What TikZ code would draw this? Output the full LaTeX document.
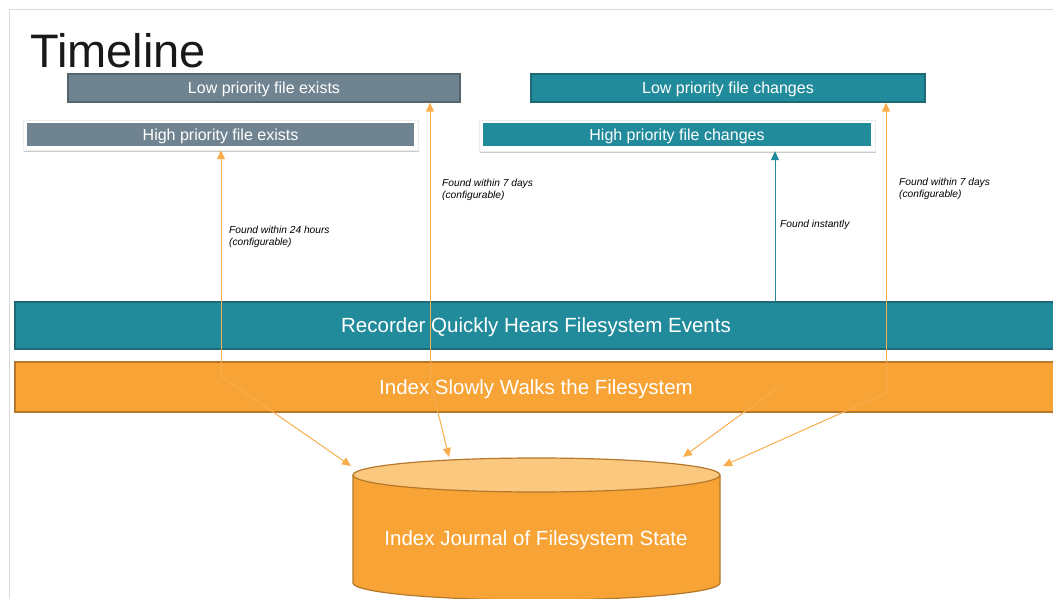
\documentclass[tikz,border=0pt]{standalone}
\usepackage{fontspec}
\setmainfont{Liberation Sans}
\usetikzlibrary{arrows.meta,shadows}
\definecolor{orng}{HTML}{F7A336}
\definecolor{orngln}{HTML}{F9AE4E}
\definecolor{orngdk}{HTML}{B5772A}
\definecolor{orngtop}{HTML}{FBC880}
\definecolor{teal}{HTML}{218B9C}
\definecolor{tealdk}{HTML}{1D6A76}
\definecolor{slate}{HTML}{6F8490}
\definecolor{slatedk}{HTML}{55656E}
\tikzset{
  x=1pt,y=1pt,
  bar/.style={draw, line width=1.2pt, minimum height=#1, inner sep=0pt, text=white, text height=14.6pt, text depth=0pt, font=\fontsize{20.5}{24}\selectfont},
  lowbox/.style={draw, line width=1.2pt, minimum height=28pt, inner sep=0pt, text=white, text height=11.5pt, text depth=0pt, font=\fontsize{16}{18}\selectfont},
  shell/.style={fill=white, draw=gray!15, line width=0.4pt, inner sep=0pt, drop shadow={shadow xshift=0.6pt, shadow yshift=-1.8pt, opacity=0.4}},
  highbox/.style={minimum height=23pt, inner sep=0pt, text=white, text height=11.5pt, text depth=0pt, font=\fontsize{16}{18}\selectfont},
  oarrow/.style={draw=orngln, line width=1pt, -{Triangle[length=9pt,width=8pt]}},
  tarrow/.style={draw=teal, line width=1pt, -{Triangle[length=9pt,width=8pt]}},
  lbl/.style={anchor=north west, inner sep=0pt, align=left, font=\fontsize{10.2}{12}\selectfont\itshape},
}
\begin{document}
\begin{tikzpicture}
\useasboundingbox (0,0) rectangle (1053,-599);
% frame
\draw[gray!30, line width=0.8pt] (9.5,-599) -- (9.5,-9.5) -- (1053,-9.5);
% title
\node[anchor=base west, inner sep=0pt, font=\fontsize{47}{50}\selectfont, text=black!90] (title) at (30,-68) {Timeline};
% top boxes
\node[lowbox, fill=slate, draw=slatedk, minimum width=392pt] (lowex) at (264,-88) {Low priority file exists};
\node[lowbox, fill=teal, draw=tealdk, minimum width=394pt] (lowch) at (728,-88) {Low priority file changes};
\node[shell, minimum width=395pt, minimum height=30pt] (highexs) at (220.5,-135) {};
\node[highbox, fill=slate, minimum width=387pt] (highex) at (220.5,-134.5) {High priority file exists};
\node[shell, minimum width=396pt, minimum height=31pt] (highchs) at (677,-135.5) {};
\node[highbox, fill=teal, minimum width=388pt] (highch) at (677,-134.5) {High priority file changes};
% bars
\node[bar=47pt, fill=teal, draw=tealdk, minimum width=1042pt] (rec) at (536,-325.5) {Recorder Quickly Hears Filesystem Events};
\node[bar=50pt, fill=orng, draw=orngdk, minimum width=1042pt] (idx) at (536,-387) {Index Slowly Walks the Filesystem};
% cylinder
\fill[orng] (353,-475) -- (353,-583) arc[start angle=180, end angle=360, x radius=183.5, y radius=17] -- (720,-475) -- cycle;
\draw[orngdk, line width=1.2pt] (353,-475) -- (353,-583) arc[start angle=180, end angle=360, x radius=183.5, y radius=17] -- (720,-475);
\draw[orngdk, line width=1.2pt, fill=orngtop] (536.5,-475) ellipse[x radius=183.5, y radius=17];
\node[text=white, text height=14.6pt, text depth=0pt, inner sep=0pt, font=\fontsize{20.5}{24}\selectfont] (jr) at (536,-538) {Index Journal of Filesystem State};
% connector points
\coordinate (j1) at (221,-376);
\coordinate (j2) at (430,-380);
\coordinate (j3) at (777,-388);
\coordinate (j4) at (886,-393);
\coordinate (r1) at (775,-302);
\coordinate (t1) at (351,-466);
\coordinate (t2) at (449,-457);
\coordinate (t3) at (683,-457);
\coordinate (t4) at (723,-466);
% connectors
\draw[oarrow] (j1) -- (j1 |- highexs.south);
\draw[oarrow] (j1) -- (t1);
\draw[oarrow] (j2) -- (j2 |- lowex.south);
\draw[oarrow] (j2) -- (t2);
\draw[oarrow] (j3) -- (t3);
\draw[oarrow] (j4) -- (j4 |- lowch.south);
\draw[oarrow] (j4) -- (t4);
\draw[tarrow] (r1) -- (r1 |- highchs.south);
% labels
\node[lbl] (l1) at (229,-226) {Found within 24 hours\\(configurable)};
\node[lbl] (l2) at (442,-179) {Found within 7 days\\(configurable)};
\node[lbl] (l3) at (780,-220) {Found instantly};
\node[lbl] (l4) at (899,-178) {Found within 7 days\\(configurable)};
\end{tikzpicture}
\end{document}
